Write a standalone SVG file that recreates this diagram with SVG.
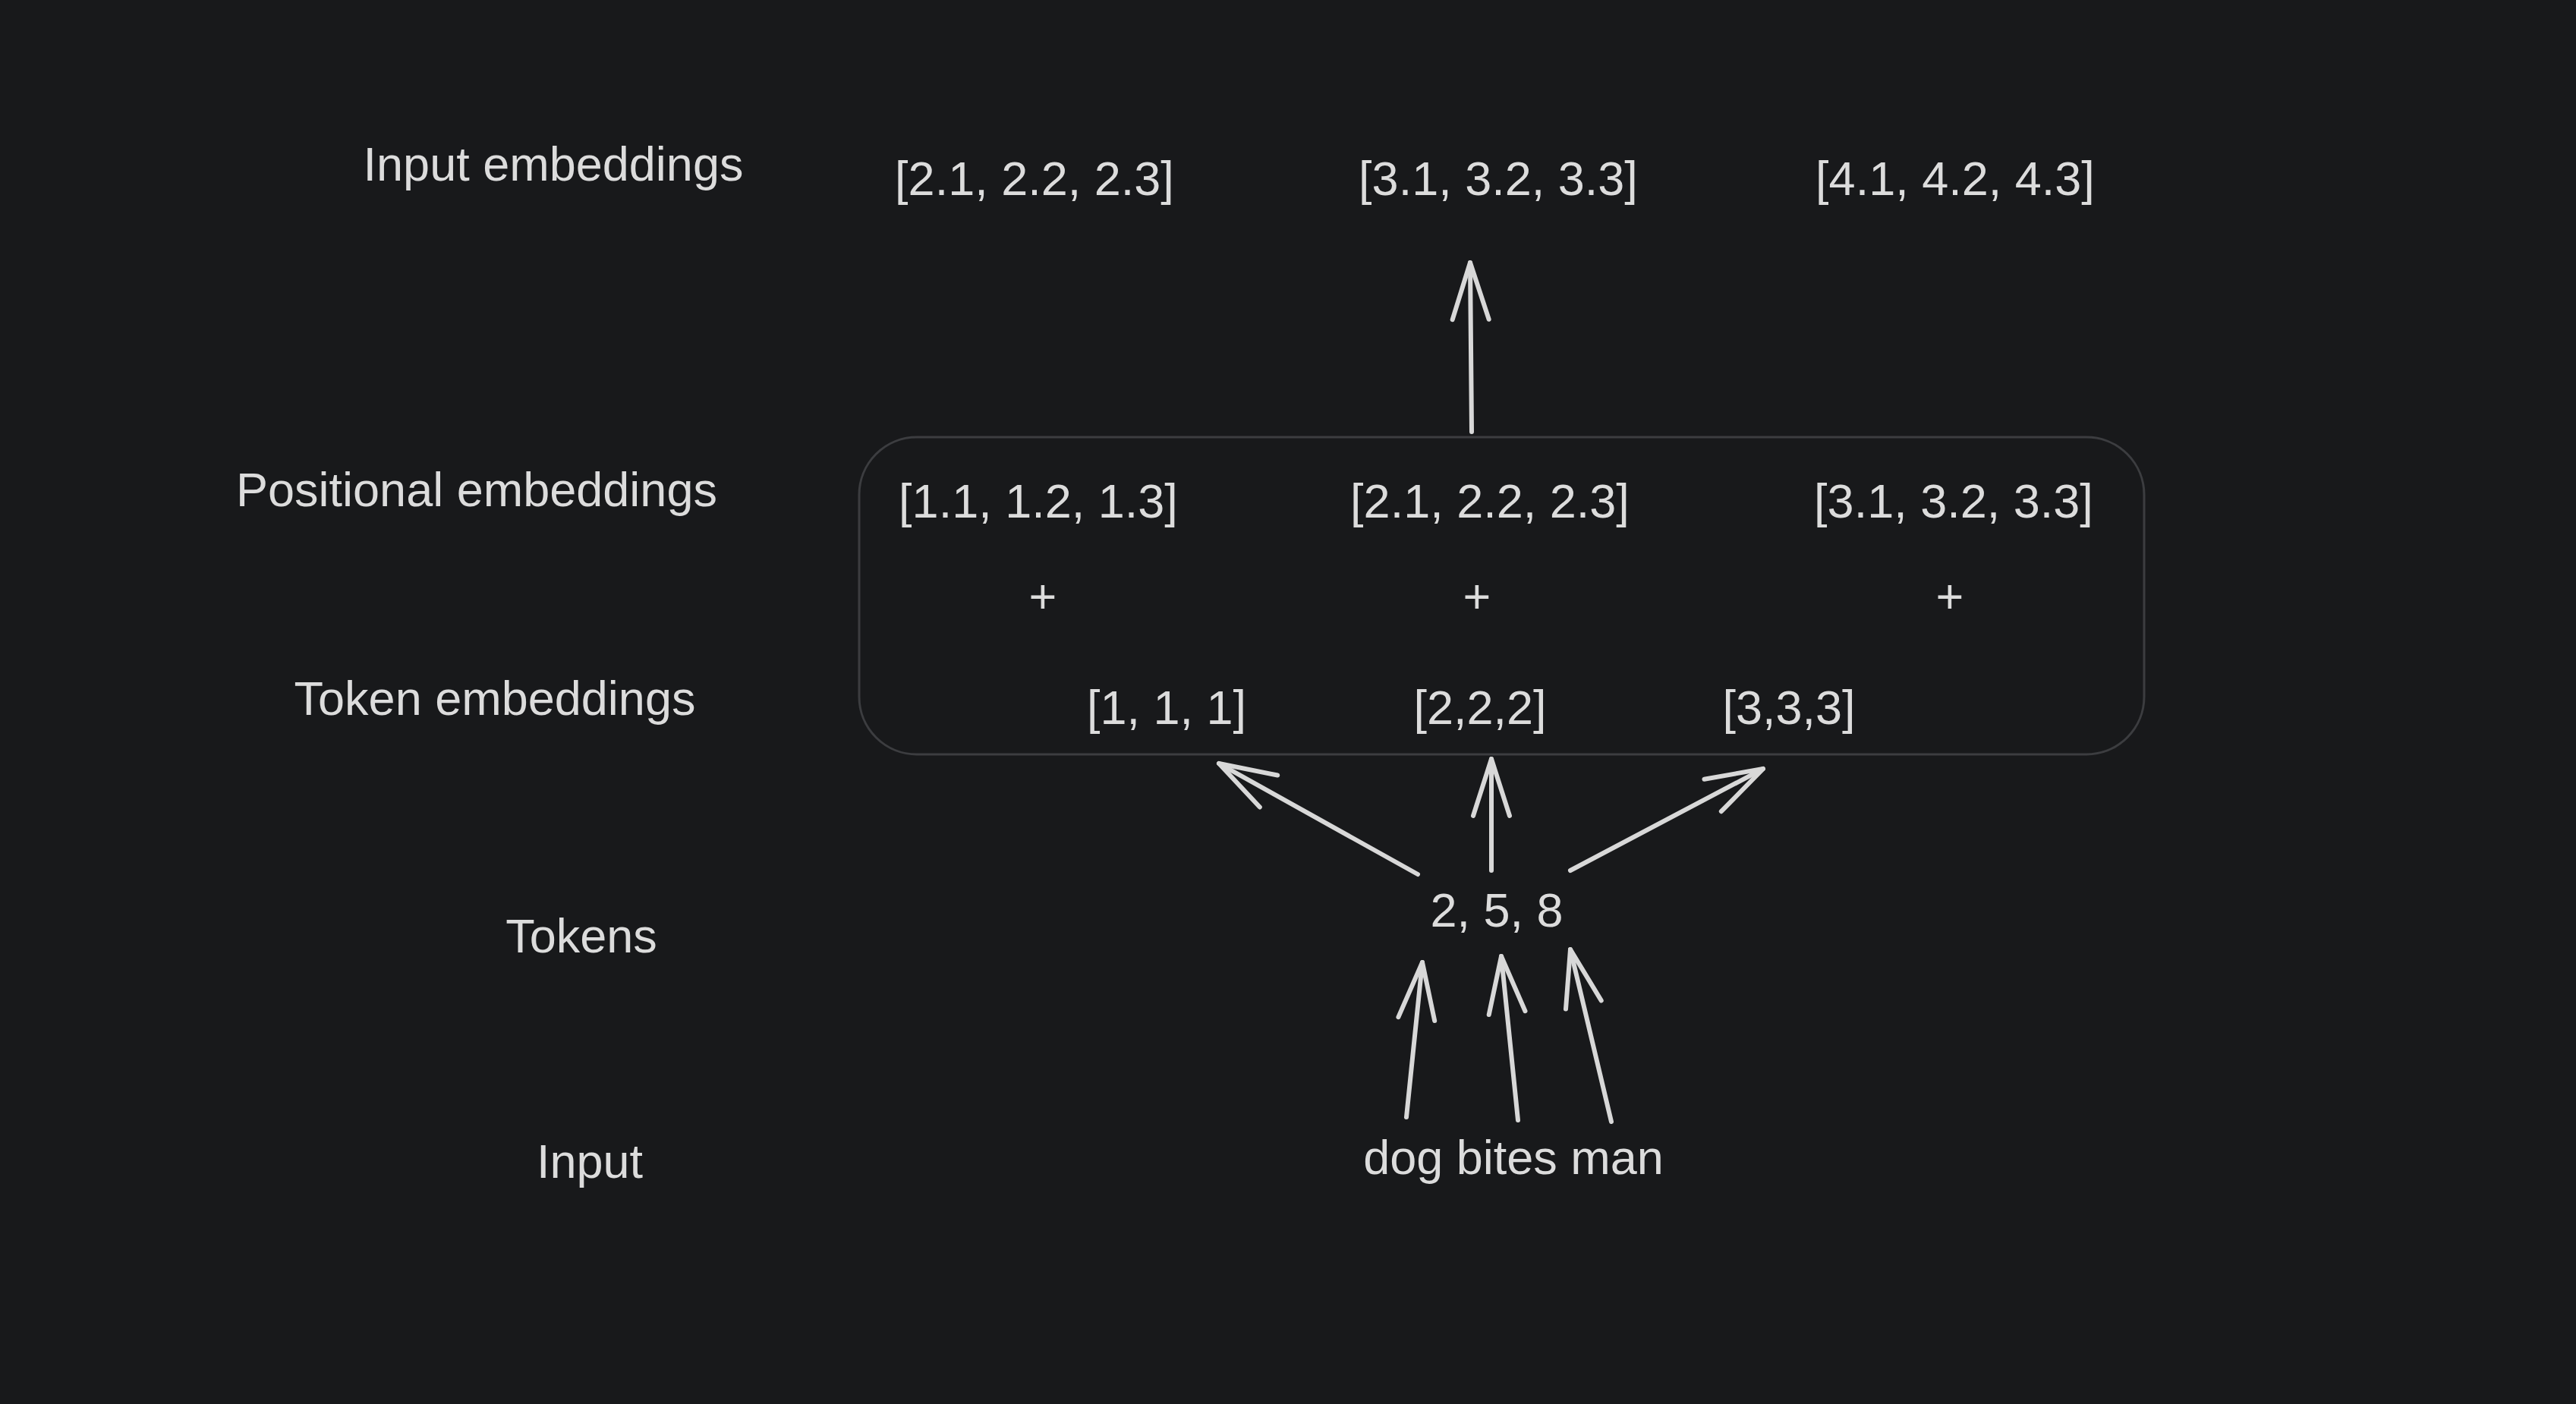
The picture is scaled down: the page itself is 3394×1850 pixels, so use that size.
<svg xmlns="http://www.w3.org/2000/svg" width="3394" height="1850" viewBox="0 0 3394 1850">
<style>
text{font-family:"Liberation Sans","DejaVu Sans",sans-serif;font-size:63px;fill:#dcdcdc;text-anchor:middle}
.c{stroke:#d8d8d8;stroke-width:6;fill:none;stroke-linecap:round;marker-end:url(#a)}
</style>
<defs>
<marker id="a" viewBox="-90 -45 100 90" refX="0" refY="0" markerWidth="100" markerHeight="90" markerUnits="userSpaceOnUse" orient="auto" overflow="visible">
<path d="M-75,-24 L0,0 L-75,24" fill="none" stroke="#d8d8d8" stroke-width="6" stroke-linecap="round" stroke-linejoin="round"/>
</marker>
</defs>
<rect width="3394" height="1850" fill="#18191b"/>
<g id="box"><rect x="1132" y="576" width="1693" height="418" rx="76" fill="none" stroke="#3c3d40" stroke-width="3"/></g>
<g id="labels">
<text x="729" y="238">Input embeddings</text>
<text x="628" y="667">Positional embeddings</text>
<text x="652" y="942">Token embeddings</text>
<text x="766" y="1255">Tokens</text>
<text x="777" y="1552">Input</text>
</g>
<g id="input-emb">
<text x="1363" y="257">[2.1, 2.2, 2.3]</text>
<text x="1974" y="257">[3.1, 3.2, 3.3]</text>
<text x="2576" y="257">[4.1, 4.2, 4.3]</text>
</g>
<g id="pos-emb">
<text x="1368" y="682">[1.1, 1.2, 1.3]</text>
<text x="1963" y="682">[2.1, 2.2, 2.3]</text>
<text x="2574" y="682">[3.1, 3.2, 3.3]</text>
<text x="1374" y="808">+</text>
<text x="1946" y="808">+</text>
<text x="2569" y="808">+</text>
</g>
<g id="tok-emb">
<text x="1537" y="954">[1, 1, 1]</text>
<text x="1950" y="954">[2,2,2]</text>
<text x="2357" y="954">[3,3,3]</text>
</g>
<g id="tokens"><text x="1972" y="1221">2, 5, 8</text></g>
<g id="input"><text x="1994" y="1547">dog bites man</text></g>
<g id="connectors">
<path class="c" d="M1939,569 L1937,346"/>
<path class="c" d="M1868,1152 L1606,1006"/>
<path class="c" d="M1965,1147 L1965,1000"/>
<path class="c" d="M2069,1147 L2323,1013"/>
<path class="c" d="M1853,1472 L1874,1268"/>
<path class="c" d="M2000,1476 L1978,1260"/>
<path class="c" d="M2123,1478 L2069,1251"/>
</g>
</svg>
